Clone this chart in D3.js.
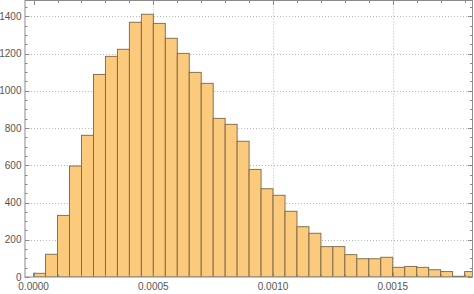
<!DOCTYPE html>
<html><head><meta charset="utf-8">
<script src="https://cdn.jsdelivr.net/npm/d3@7"></script>
<style>body{margin:0;background:#fff}svg{display:block}</style>
</head><body>
<svg id="c" width="474" height="294"></svg>
<script>
const binStarts = [0,0.00005,0.0001,0.00015,0.0002,0.00025,0.0003,0.00035,0.0004,0.00045,0.0005,0.00055,0.0006,0.00065,0.0007,0.00075,0.0008,0.00085,0.0009,0.00095,0.001,0.00105,0.0011,0.00115,0.0012,0.00125,0.0013,0.00135,0.0014,0.00145,0.0015,0.00155,0.0016,0.00165,0.0017,0.00175,0.0018];
const binWidth = 0.00005;
const counts = [20,122,331,596,761,1088,1185,1223,1368,1411,1362,1282,1201,1099,1040,852,820,729,578,474,439,353,270,235,163,163,120,98,98,106,52,57,52,39,29,4,29];
const xTicks = [0,0.0005,0.001,0.0015];
const xTickLabels = ["0.0000","0.0005","0.0010","0.0015"];
const yTicks = [0,200,400,600,800,1000,1200,1400];

const L=25,R=472.5,T=0.5,B=277;
const svg=d3.select("#c");
const x=d3.scaleLinear().domain([-0.0000359,0.001833]).range([L,R]);
const y=d3.scaleLinear().domain([0,1400]).range([B,16.3]);

svg.append("defs").append("clipPath").attr("id","clip").append("rect")
  .attr("x",L).attr("y",T).attr("width",R-L).attr("height",B-T);

// grid
const g=svg.append("g");
g.selectAll("line.h").data(yTicks.slice(1)).join("line")
  .attr("x1",L).attr("x2",R).attr("y1",d=>Math.round(y(d))+0.5).attr("y2",d=>Math.round(y(d))+0.5)
  .attr("stroke","#b8b8b8").attr("stroke-dasharray","1,2");
g.selectAll("line.v").data(xTicks.slice(1)).join("line")
  .attr("y1",T).attr("y2",B).attr("x1",d=>Math.round(x(d))+0.5).attr("x2",d=>Math.round(x(d))+0.5)
  .attr("stroke","#b8b8b8").attr("stroke-dasharray","1,2");

// bars
svg.append("g").attr("clip-path","url(#clip)").selectAll("rect").data(counts).join("rect")
  .attr("x",(d,i)=>x(binStarts[i]))
  .attr("width",(d,i)=>x(binStarts[i]+binWidth)-x(binStarts[i]))
  .attr("y",d=>y(d)).attr("height",d=>B-y(d))
  .attr("fill","#fbca7d").attr("stroke","#7a6645").attr("stroke-width",0.9);

// frame ticks
const fr=svg.append("g").attr("stroke","#8a8a8a").attr("stroke-width",1);
const yMinor=d3.range(0,1501,50);
const xMinor=d3.range(0,0.00185,0.0001);
yMinor.forEach(v=>{const yy=Math.round(y(v))+0.5; if(yy<T+1)return; const len=(v%200===0)?4.5:2.5;
  fr.append("line").attr("x1",L).attr("x2",L+len).attr("y1",yy).attr("y2",yy);
  fr.append("line").attr("x1",R).attr("x2",R-len).attr("y1",yy).attr("y2",yy);});
xMinor.forEach((v,i)=>{const xx=Math.round(x(v))+0.5; const len=(i%5===0)?4.5:2.5;
  fr.append("line").attr("y1",T).attr("y2",T+len).attr("x1",xx).attr("x2",xx);
  fr.append("line").attr("y1",B).attr("y2",B-len).attr("x1",xx).attr("x2",xx);});
fr.append("rect").attr("x",L).attr("y",T).attr("width",R-L).attr("height",B-T).attr("fill","none");

// labels
const tx=svg.append("g").attr("font-family","Liberation Sans, Arial, sans-serif").attr("font-size",10).attr("fill","#555");
tx.selectAll("text.y").data(yTicks).join("text").attr("x",21.5).attr("y",d=>y(d)).attr("dy","0.35em")
  .attr("text-anchor","end").text(d=>d);
tx.selectAll("text.x").data(xTicks).join("text").attr("x",d=>x(d)).attr("y",290)
  .attr("text-anchor","middle").text((d,i)=>xTickLabels[i]);
</script>
</body></html>
